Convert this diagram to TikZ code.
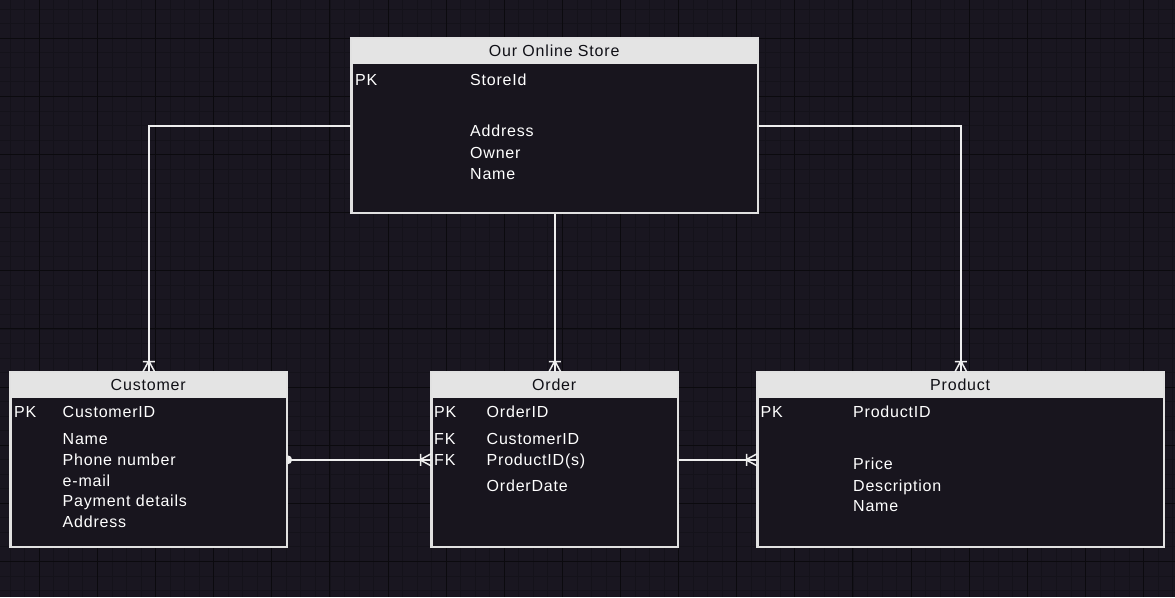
\documentclass[tikz,border=0pt]{standalone}
\usepackage{fontspec}
\setmainfont{Liberation Sans}[LetterSpace=5]
\usetikzlibrary{decorations.markings}
\definecolor{bgcol}{RGB}{25,22,32}
\definecolor{gminor}{RGB}{20,18,26}
\definecolor{gmajor}{RGB}{11,10,14}
\definecolor{boxfill}{RGB}{24,21,30}
\definecolor{hdrfill}{RGB}{228,228,228}
\definecolor{edgecol}{RGB}{225,225,225}
\definecolor{linecol}{RGB}{238,238,238}
\definecolor{hdrtext}{RGB}{16,16,22}
\begin{document}
\begin{tikzpicture}[x=1pt,y=-1pt,
  font=\fontsize{16}{19}\selectfont,
  entity/.style={draw=edgecol, line width=1.6pt, fill=boxfill, inner sep=0pt, anchor=north west},
  hdr/.style={fill=hdrfill, text=hdrtext, inner sep=0pt, anchor=north west, minimum height=26pt, text height=11.5pt, text depth=0pt},
  field/.style={anchor=west, text=white, inner sep=0pt, text height=11.5pt, text depth=0pt},
  outline/.style={draw=edgecol, line width=1.6pt},
  conn/.style={draw=linecol, line width=1.8pt},
  crowend/.style={postaction={decorate, decoration={markings, mark=at position 1 with {\draw[linecol, line width=1.5pt] (-11pt,0pt) -- (0pt,6pt) (-11pt,0pt) -- (0pt,-6pt) (-10.5pt,-6pt) -- (-10.5pt,6pt);}}}},
  dotstart/.style={postaction={decorate, decoration={markings, mark=at position 0 with {\fill[linecol] (0pt,-4.5pt) arc (-90:90:4.5pt) -- cycle;}}}}
]
\useasboundingbox (0,0) rectangle (1175,597);
\fill[bgcol] (0,0) rectangle (1175,597);
% grid
\foreach \i in {-2,...,78} \draw[gminor, line width=0.8pt] ({39.3+14.53*\i},0) -- ({39.3+14.53*\i},597);
\foreach \j in {-2,...,38} \draw[gminor, line width=0.8pt] (0,{38.3+14.53*\j}) -- (1175,{38.3+14.53*\j});
\foreach \k in {0,...,19} \draw[gmajor, line width=1pt] ({39.3+58.12*\k},0) -- ({39.3+58.12*\k},597);
\foreach \k in {0,...,9} \draw[gmajor, line width=1pt] (0,{38.3+58.12*\k}) -- (1175,{38.3+58.12*\k});

% entities
\node[entity, minimum width=406pt, minimum height=174pt] (store) at (351,38) {};
\node[hdr, minimum width=406pt] (storeh) at (store.north west) {Our Online Store};
\draw[outline] (store.north west) rectangle (store.south east);

\node[entity, minimum width=276pt, minimum height=174pt] (cust) at (10,372) {};
\node[hdr, minimum width=276pt] (custh) at (cust.north west) {Customer};
\draw[outline] (cust.north west) rectangle (cust.south east);

\node[entity, minimum width=246pt, minimum height=174pt] (order) at (431,372) {};
\node[hdr, minimum width=246pt] (orderh) at (order.north west) {Order};
\draw[outline] (order.north west) rectangle (order.south east);

\node[entity, minimum width=406pt, minimum height=174pt] (prod) at (757,372) {};
\node[hdr, minimum width=406pt] (prodh) at (prod.north west) {Product};
\draw[outline] (prod.north west) rectangle (prod.south east);

% store fields
\node[field] (s1) at (355,80) {PK};
\node[field] (s2) at (470,80) {StoreId};
\node[field] (s3) at (470,131) {Address};
\node[field] (s4) at (470,153) {Owner};
\node[field] (s5) at (470,173.5) {Name};

% customer fields
\node[field] (c1) at (14,412) {PK};
\node[field] (c2) at (62.5,412) {CustomerID};
\node[field] (c3) at (62.5,438.5) {Name};
\node[field] (c4) at (62.5,459.5) {Phone number};
\node[field] (c5) at (62.5,480.5) {e-mail};
\node[field] (c6) at (62.5,501) {Payment details};
\node[field] (c7) at (62.5,522) {Address};

% order fields
\node[field] (o1) at (434,412) {PK};
\node[field] (o2) at (486.5,412) {OrderID};
\node[field] (o3) at (434,438.5) {FK};
\node[field] (o4) at (486.5,438.5) {CustomerID};
\node[field] (o5) at (434,459.5) {FK};
\node[field] (o6) at (486.5,459.5) {ProductID(s)};
\node[field] (o7) at (486.5,486) {OrderDate};

% product fields
\node[field] (p1) at (760.5,412) {PK};
\node[field] (p2) at (853,412) {ProductID};
\node[field] (p3) at (853,464) {Price};
\node[field] (p4) at (853,486) {Description};
\node[field] (p5) at (853,506) {Name};

% connectors
\draw[conn, crowend] (store.west) -| (cust.north);
\draw[conn, crowend] (store.east) -| (prod.north);
\draw[conn, crowend] (store.south) -- (order.north);
\draw[conn, crowend, dotstart] (cust.east) -- (order.west);
\draw[conn, crowend] (order.east) -- (prod.west);
\end{tikzpicture}
\end{document}
